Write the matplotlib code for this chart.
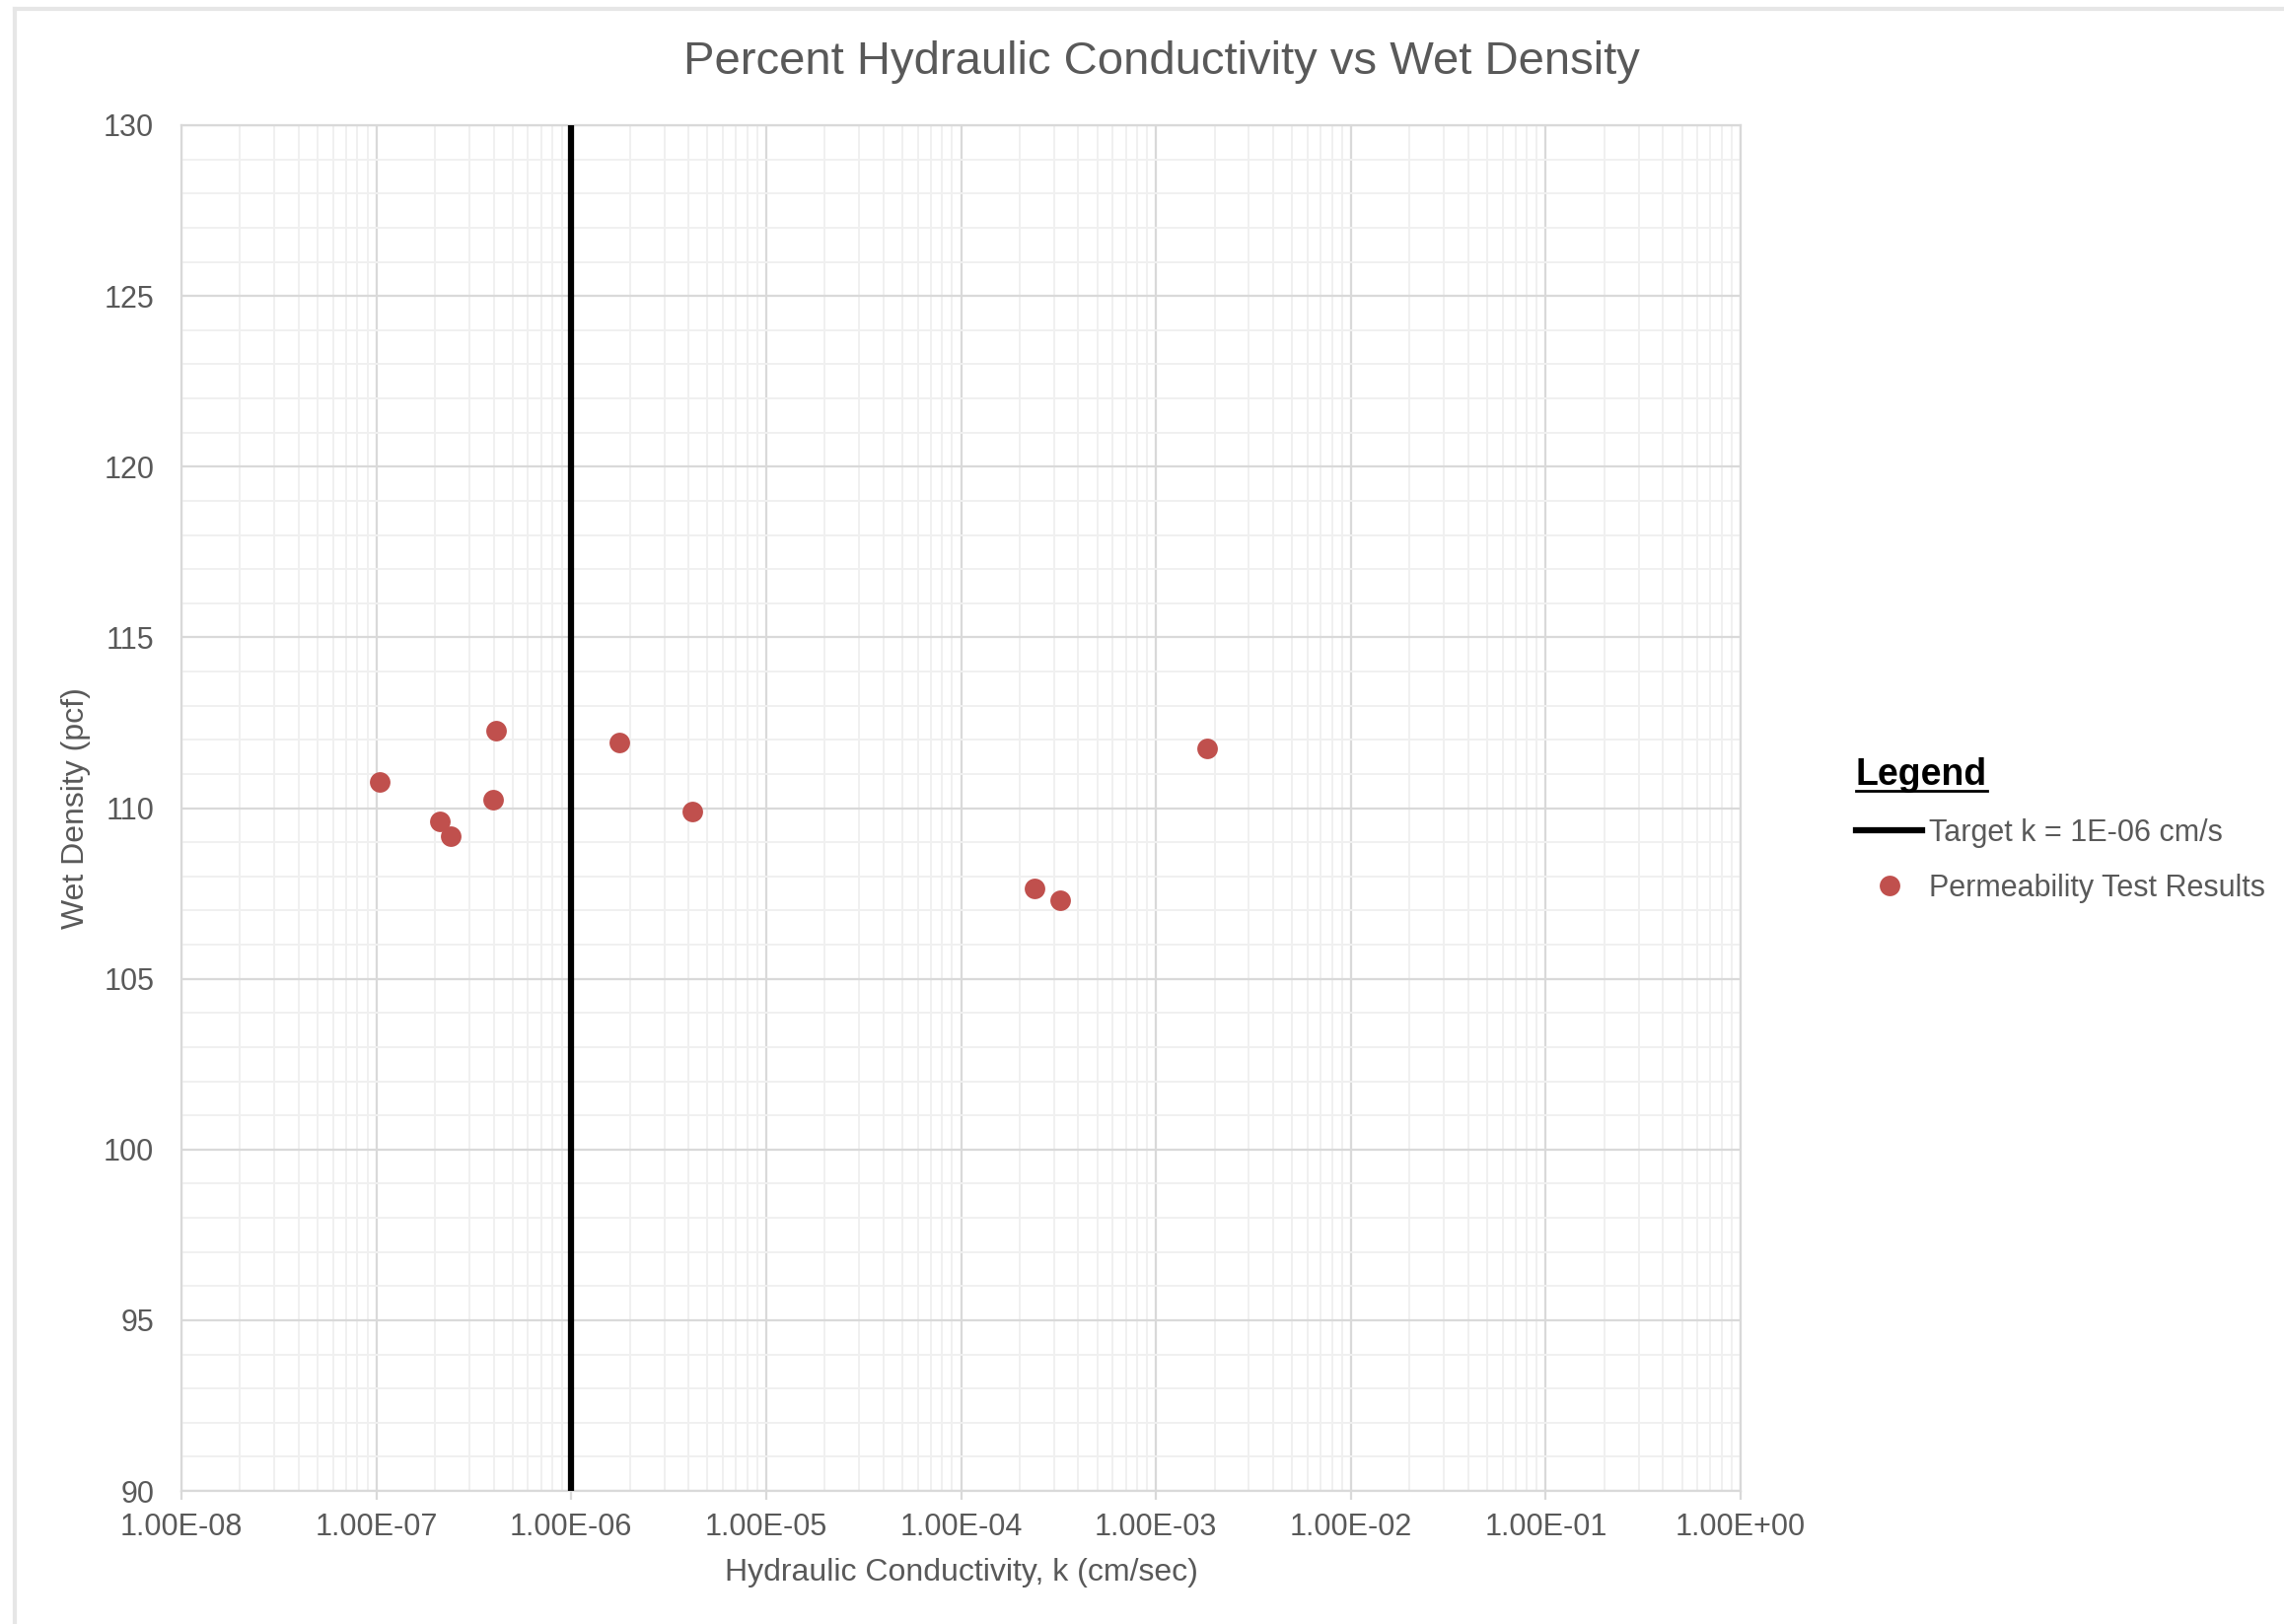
import numpy as np
import matplotlib
matplotlib.use('Agg')
import matplotlib.pyplot as plt
from matplotlib.ticker import FixedLocator, FuncFormatter, NullFormatter
from matplotlib.lines import Line2D

plt.rcParams['font.family'] = ['Liberation Sans', 'DejaVu Sans']

# ── data ────────────────────────────────────────────────────────
k_values = [1.04e-7, 2.12e-7, 2.40e-7, 3.97e-7, 4.09e-7,
            1.77e-6, 4.20e-6, 2.39e-4, 3.24e-4, 1.82e-3]
wet_density = [110.76, 109.60, 109.17, 110.25, 112.27,
               111.91, 109.89, 107.66, 107.29, 111.76]
target_k = 1e-6

TITLE = 'Percent Hydraulic Conductivity vs Wet Density'
XLABEL = 'Hydraulic Conductivity, k (cm/sec)'
YLABEL = 'Wet Density (pcf)'
TARGET_LABEL = 'Target k = 1E-06 cm/s'
POINTS_LABEL = 'Permeability Test Results'

TEXT_GREY = '#595959'
MAJOR_GRID = '#D9D9D9'
MINOR_GRID = '#F0F0F0'
RED = '#C0504D'

W, H = 2316, 1647
fig = plt.figure(figsize=(W / 100, H / 100), dpi=100)
ax = fig.add_axes([184 / W, 1 - 1512 / H, (1765 - 184) / W, (1512 - 127) / H])

ax.set_xscale('log')
ax.set_xlim(1e-8, 1e0)
ax.set_ylim(90, 130)

# grid / ticks
decades = 10.0 ** np.arange(-8, 1)
minor_x = [m * d for d in decades[:-1] for m in range(2, 10)]
ax.xaxis.set_major_locator(FixedLocator(decades))
ax.xaxis.set_minor_locator(FixedLocator(minor_x))
ax.xaxis.set_minor_formatter(NullFormatter())
ax.xaxis.set_major_formatter(FuncFormatter(lambda v, p: f'{v:.2E}'))
ax.yaxis.set_major_locator(FixedLocator(np.arange(90, 131, 5)))
ax.yaxis.set_minor_locator(FixedLocator(np.arange(90, 131, 1)))

ax.grid(which='minor', color=MINOR_GRID, linewidth=1.4, zorder=0)
ax.grid(which='major', color=MAJOR_GRID, linewidth=1.6, zorder=0)
ax.set_axisbelow(True)

for s in ax.spines.values():
    s.set_color(MAJOR_GRID)
    s.set_linewidth(1.6)

ax.tick_params(axis='x', which='major', direction='out', length=6.5, width=1.6,
               color=MAJOR_GRID, labelsize=22, labelcolor=TEXT_GREY, pad=9)
ax.tick_params(axis='x', which='minor', length=0)
ax.tick_params(axis='y', which='both', length=0, labelsize=22,
               labelcolor=TEXT_GREY, pad=20)

# marks
target_line = ax.axvline(target_k, color='black', linewidth=4.5, zorder=3,
                         label=TARGET_LABEL)
pts, = ax.plot(k_values, wet_density, linestyle='none', marker='o',
               markersize=15, color=RED, markeredgewidth=0, zorder=4,
               label=POINTS_LABEL)

# labels
ax.set_xlabel(XLABEL, fontsize=23, color=TEXT_GREY)
ax.set_ylabel(YLABEL, fontsize=23, color=TEXT_GREY)
ax.xaxis.set_label_coords(0.5, (1512 - 1595) / (1512 - 127))
ax.xaxis.label.set_va('center')
ax.yaxis.set_label_coords((77 - 184) / (1765 - 184), 0.5)
ax.yaxis.label.set_va('center')

fig.text(1178 / W, 1 - 63 / H, TITLE, fontsize=34, color=TEXT_GREY,
         ha='center', va='center')

# legend
leg = fig.legend(handles=[target_line, pts], labels=[TARGET_LABEL, POINTS_LABEL],
                 loc='upper left', bbox_to_anchor=(1882 / W, 1 - 768 / H),
                 frameon=False, fontsize=22, labelcolor=TEXT_GREY,
                 title='Legend', title_fontproperties={'size': 27, 'weight': 'bold'},
                 alignment='left', handlelength=2.2, handletextpad=0.22,
                 labelspacing=0.85, borderpad=0, borderaxespad=0, numpoints=1)

# chart-area border (left and top only visible in the reference)
fig.add_artist(Line2D([15 / W, 15 / W], [0, 1 - 9 / H], color='#E6E6E6',
                      linewidth=3, transform=fig.transFigure))
fig.add_artist(Line2D([15 / W, 1], [1 - 9 / H, 1 - 9 / H], color='#E6E6E6',
                      linewidth=3, transform=fig.transFigure))

# underline for legend title
fig.canvas.draw()
bb = leg.get_title().get_window_extent()
uy = (bb.y0 + 2) / H
fig.add_artist(Line2D([bb.x0 / W, bb.x1 / W], [uy, uy], color='black',
                      linewidth=2, transform=fig.transFigure))

fig.savefig('out.png', dpi=100)
